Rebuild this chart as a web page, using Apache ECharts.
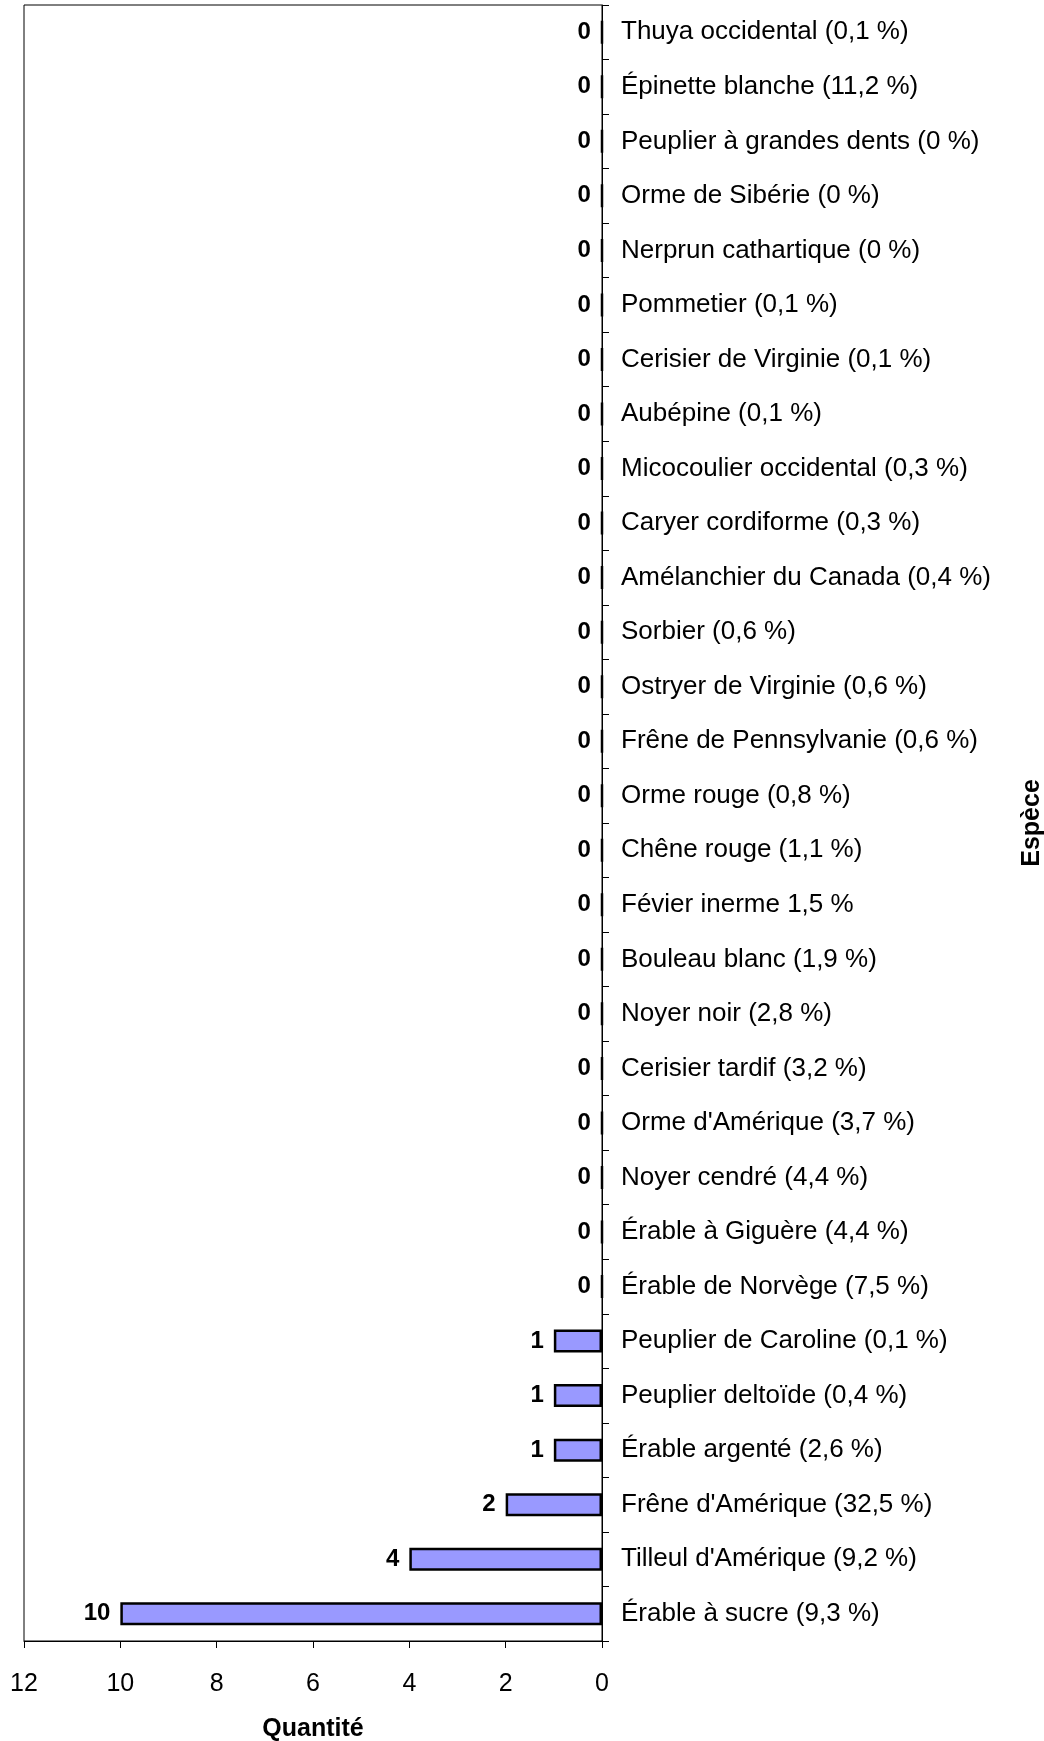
<!DOCTYPE html>
<html><head><meta charset="utf-8">
<script src="https://cdn.jsdelivr.net/npm/echarts@6/dist/echarts.min.js"></script>
<style>html,body{margin:0;padding:0;background:#fff}#c{width:1044px;height:1741px}</style>
</head><body><div id="c"></div>
<script>
const categories = [
  "Thuya occidental (0,1 %)",
  "Épinette blanche (11,2 %)",
  "Peuplier à grandes dents (0 %)",
  "Orme de Sibérie (0 %)",
  "Nerprun cathartique (0 %)",
  "Pommetier (0,1 %)",
  "Cerisier de Virginie (0,1 %)",
  "Aubépine (0,1 %)",
  "Micocoulier occidental (0,3 %)",
  "Caryer cordiforme (0,3 %)",
  "Amélanchier du Canada (0,4 %)",
  "Sorbier (0,6 %)",
  "Ostryer de Virginie (0,6 %)",
  "Frêne de Pennsylvanie (0,6 %)",
  "Orme rouge (0,8 %)",
  "Chêne rouge (1,1 %)",
  "Févier inerme 1,5 %",
  "Bouleau blanc (1,9 %)",
  "Noyer noir (2,8 %)",
  "Cerisier tardif (3,2 %)",
  "Orme d'Amérique (3,7 %)",
  "Noyer cendré (4,4 %)",
  "Érable à Giguère (4,4 %)",
  "Érable de Norvège (7,5 %)",
  "Peuplier de Caroline (0,1 %)",
  "Peuplier deltoïde (0,4 %)",
  "Érable argenté (2,6 %)",
  "Frêne d'Amérique (32,5 %)",
  "Tilleul d'Amérique (9,2 %)",
  "Érable à sucre (9,3 %)"
];
const quantities = [0,0,0,0,0,0,0,0,0,0,0,0,0,0,0,0,0,0,0,0,0,0,0,0,1,1,1,2,4,10];
const xTicks = {min: 0, max: 12, interval: 2};

const FONT = "Liberation Sans, Arial, sans-serif";
const chart = echarts.init(document.getElementById('c'), null, {renderer: 'canvas'});
chart.setOption({
  animation: false,
  backgroundColor: '#fff',
  grid: {left: 24, right: 442, top: 5, bottom: 100, show: true, borderColor: '#000', borderWidth: 1,
         containLabel: false, outerBoundsMode: 'none'},
  xAxis: {
    type: 'value', inverse: true, min: xTicks.min, max: xTicks.max, interval: xTicks.interval,
    name: 'Quantité', nameLocation: 'middle', nameGap: 76,
    nameTextStyle: {fontFamily: FONT, fontSize: 25, fontWeight: 'bold', color: '#000'},
    axisLine: {show: true, lineStyle: {color: '#000', width: 1}},
    axisTick: {show: true, inside: false, length: 7, lineStyle: {color: '#000'}},
    axisLabel: {fontFamily: FONT, fontSize: 25, color: '#000', margin: 31},
    splitLine: {show: false}
  },
  yAxis: {
    type: 'category', data: categories, inverse: true, position: 'right',
    name: 'Espèce', nameLocation: 'middle', nameGap: 418, nameRotate: 90,
    nameTextStyle: {fontFamily: FONT, fontSize: 25, fontWeight: 'bold', color: '#000'},
    axisLine: {show: true, onZero: false, lineStyle: {color: '#000', width: 1}},
    axisTick: {show: true, inside: false, length: 7, alignWithLabel: false, lineStyle: {color: '#000'}},
    axisLabel: {fontFamily: FONT, fontSize: 26, color: '#000', margin: 19, padding: [7, 0, 0, 0]},
    splitLine: {show: false}
  },
  series: [{
    type: 'bar', data: quantities, barWidth: 23,
    itemStyle: {color: '#9999FF', borderColor: '#000', borderWidth: 2.5},
    label: {show: true, position: 'left', distance: 10, fontFamily: FONT, fontSize: 24, fontWeight: 'bold', color: '#000', padding: [7, 0, 0, 0]}
  }]
});
</script></body></html>
